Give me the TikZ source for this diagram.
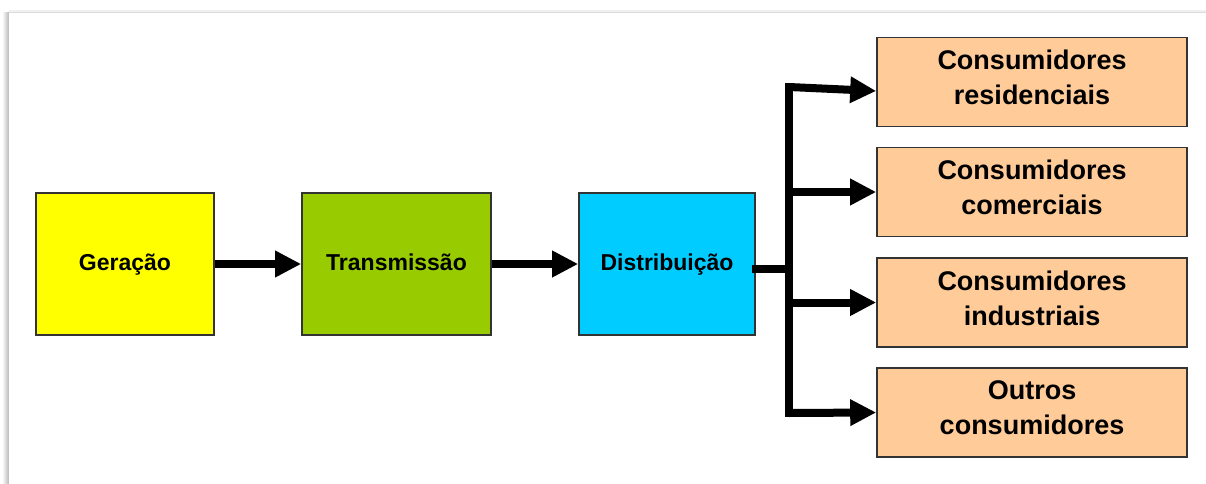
\documentclass[tikz,border=0pt]{standalone}
\usepackage{fontspec}
\setmainfont{Liberation Sans}
\usetikzlibrary{arrows.meta}

\definecolor{gerfill}{HTML}{FFFF00}
\definecolor{trafill}{HTML}{99CC00}
\definecolor{disfill}{HTML}{00CCFF}
\definecolor{consfill}{HTML}{FFCC99}
\definecolor{edge}{HTML}{333333}

\tikzset{
  stagebox/.style={draw=edge, line width=1.6pt, inner sep=0pt,
    minimum height=142pt, text height=17pt, text depth=5pt,
    font=\fontsize{23}{28}\selectfont\bfseries},
  consbox/.style={draw=edge, line width=1.6pt, inner sep=0pt, fill=consfill,
    minimum width=310pt, minimum height=89pt, align=center,
    text depth=9pt, font=\fontsize{27}{35}\selectfont\bfseries},
  flow/.style={line width=8pt, -{Triangle[length=26pt, width=25pt]}},
  feed/.style={line width=8pt, line cap=rect},
}

\begin{document}
\begin{tikzpicture}[x=1pt, y=-1pt]
  \useasboundingbox (0,0) rectangle (1206,484);
  \fill[white] (0,0) rectangle (1206,484);

  % sheet with a soft shadow along its left and top edges
  \shade[left color=white, right color=black!28] (2,13) rectangle (9,484);
  \fill[black!6] (9,10) rectangle (1206,12);
  \fill[white] (9,12) rectangle (1206,484);
  \draw[black!14, line width=0.8pt] (9,12) -- (1206,12);

  % main chain
  \node[stagebox, fill=gerfill, minimum width=178pt] (ger) at (125,264) {Geração};
  \node[stagebox, fill=trafill, minimum width=189pt] (tra) at (396.5,264) {Transmissão};
  \node[stagebox, fill=disfill, minimum width=176pt] (dis) at (667,264) {Distribuição};

  % consumer groups
  \node[consbox] (c1) at (1032,82)    {Consumidores\\residenciais};
  \node[consbox] (c2) at (1032,192)   {Consumidores\\comerciais};
  \node[consbox] (c3) at (1032,302.5) {Consumidores\\industriais};
  \node[consbox] (c4) at (1032,412.5) {Outros\\consumidores};

  % connectors
  \draw[flow] (ger) -- (tra);
  \draw[flow] (tra) -- (dis);

  \coordinate (j)  at (789,269);
  \coordinate (t1) at (789,87);
  \coordinate (t4) at (789,413);
  \draw[feed] ([yshift=-5pt]dis.east) -- (j);
  \draw[feed] (t1) -- (t4);

  \draw[flow] (t1) -- ([yshift=-9pt]c1.west);
  \draw[flow] (t1 |- c2.west) -- (c2.west);
  \draw[flow] (t1 |- c3.west) -- (c3.west);
  \draw[flow] (t4) -- (c4.west);
\end{tikzpicture}
\end{document}
